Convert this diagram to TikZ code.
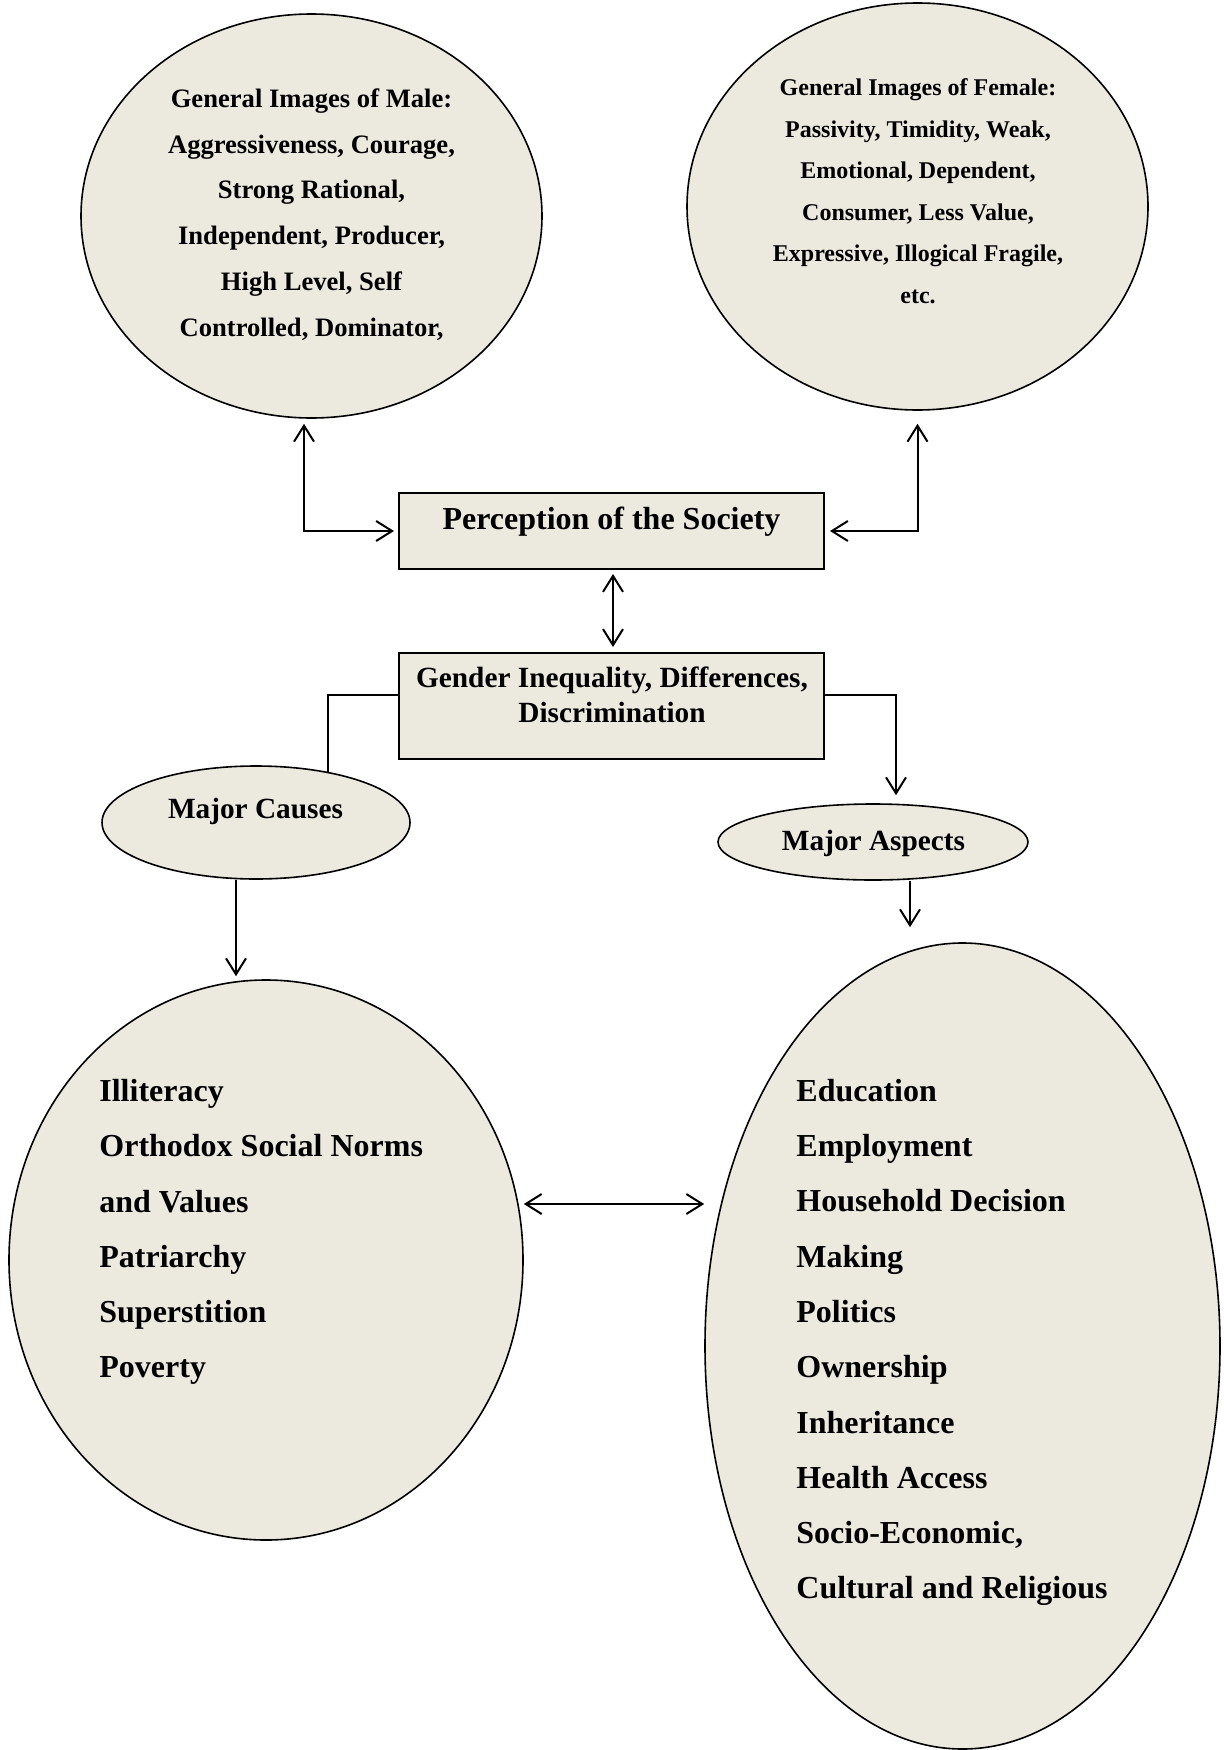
\documentclass[tikz,border=0pt]{standalone}
\usepackage{fontspec}
\setmainfont{Liberation Serif}
\usetikzlibrary{shapes.geometric, arrows.meta}
\definecolor{boxfill}{RGB}{236,233,223}
\tikzset{
    oval/.style={ellipse, draw=black, fill=boxfill, line width=0.8pt, inner sep=0pt},
    frame/.style={rectangle, draw=black, fill=boxfill, line width=1pt, inner sep=0pt},
    caption/.style={inner sep=0pt, align=center, font=\bfseries},
    listtext/.style={inner sep=0pt, align=left, font=\fontsize{16}{27.65}\selectfont\bfseries},
    arrow/.style={-{Straight Barb[length=8pt, width=10pt]}, line width=1pt},
    dblarrow/.style={{Straight Barb[length=8pt, width=10pt]}-{Straight Barb[length=8pt, width=10pt]}, line width=1pt},
    link/.style={line width=1pt}
}

\begin{document}
\begin{tikzpicture}[x=0.5pt, y=-0.5pt]
    \useasboundingbox (0,0) rectangle (1224,1750);

    % --- Top: images of male and female ---
    \node (Male) [oval, minimum width=230.5pt, minimum height=202pt] at (311.5,216) {};
    \node (Female) [oval, minimum width=230.5pt, minimum height=203.5pt] at (917.5,206.5) {};

    \node (MaleText) [caption, font=\fontsize{13.3}{22.9}\selectfont\bfseries] at (311.5,214.5)
        {General Images of Male:\\ Aggressiveness, Courage,\\ Strong Rational,\\ Independent, Producer,\\ High Level, Self\\ Controlled, Dominator,};
    \node (FemaleText) [caption, font=\fontsize{12}{20.75}\selectfont\bfseries] at (918,191)
        {General Images of Female:\\ Passivity, Timidity, Weak,\\ Emotional, Dependent,\\ Consumer, Less Value,\\ Expressive, Illogical Fragile,\\ etc.};

    % --- Middle: perception and inequality boxes ---
    \node (Percep) [frame, minimum width=212.5pt, minimum height=38pt] at (611.5,531) {};
    \node (Gender) [frame, minimum width=212.5pt, minimum height=53pt] at (611.5,706) {};

    \node (PercepText) [caption, font=\fontsize{16}{18}\selectfont\bfseries] at (611.5,522) {Perception of the Society};
    \node (GenderText) [caption, font=\fontsize{14.65}{17.5}\selectfont\bfseries] at (612,695)
        {Gender Inequality, Differences,\\ Discrimination};

    % --- Causes and aspects ---
    \node (Causes) [oval, minimum width=154pt, minimum height=56.5pt] at (256,822.5) {};
    \node (Aspects) [oval, minimum width=155pt, minimum height=38pt] at (873,842) {};

    \node (CausesText) [caption, font=\fontsize{14.65}{17}\selectfont\bfseries] at (255.5,811) {Major Causes};
    \node (AspectsText) [caption, font=\fontsize{14.65}{17}\selectfont\bfseries] at (873.5,843) {Major Aspects};

    % --- Bottom: the two lists ---
    \node (CauseList) [oval, minimum width=257pt, minimum height=280pt] at (266,1260) {};
    \node (AspectList) [oval, minimum width=257.5pt, minimum height=403pt] at (962.5,1346) {};

    \node (CauseText) [listtext, anchor=west] at (99,1232)
        {Illiteracy\\ Orthodox Social Norms\\ and Values\\ Patriarchy\\ Superstition\\ Poverty};
    \node (AspectText) [listtext, anchor=west] at (796,1342.5)
        {Education\\ Employment\\ Household Decision\\ Making\\ Politics\\ Ownership\\ Inheritance\\ Health Access\\ Socio-Economic,\\ Cultural and Religious};

    % --- Arrows ---
    \draw [dblarrow, shorten <=2pt] (Percep.west) -| ([xshift=-3.75pt, yshift=-2.5pt]Male.south);
    \draw [dblarrow, shorten <=2.5pt] (Percep.east) -| ([yshift=-6.5pt]Female.south);
    \draw [dblarrow, shorten <=2pt, shorten >=2.5pt] ([xshift=0.75pt]Percep.south) -- ([xshift=0.75pt]Gender.north);

    % Gender box to the two ovals
    \draw [link] ([yshift=5.5pt]Gender.west) -| (Causes.35);
    \draw [arrow] ([yshift=5.5pt]Gender.east) -| ([xshift=11.5pt, yshift=4pt]Aspects.north);

    \draw [arrow] ([xshift=-10pt]Causes.south) -- ([xshift=-10pt, yshift=1.5pt]Causes.south |- CauseList.north);
    \draw [arrow] ([xshift=18.5pt]Aspects.south) -- ([xshift=18.5pt, yshift=7.5pt]Aspects.south |- AspectList.north);

    \draw [dblarrow] ([yshift=28pt]CauseList.east) -- ([yshift=28pt]CauseList.east -| AspectList.west);
\end{tikzpicture}
\end{document}
